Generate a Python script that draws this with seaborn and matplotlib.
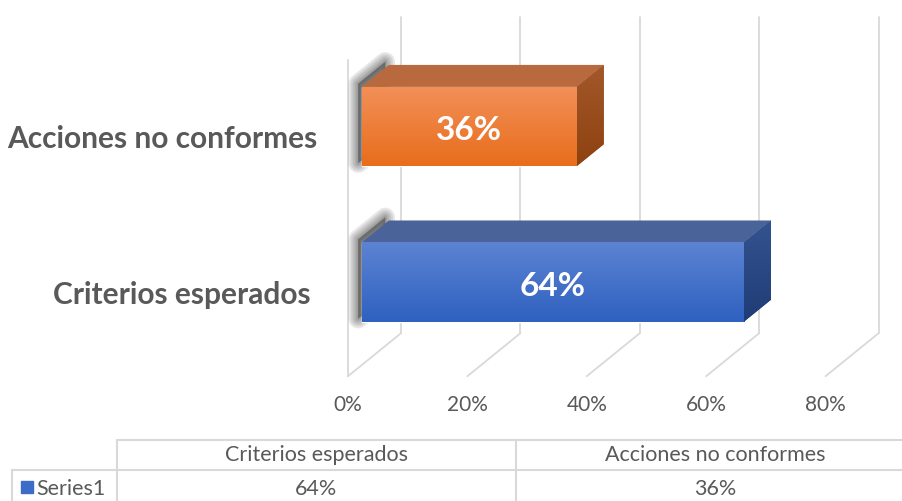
import numpy as np
import pandas as pd
import seaborn as sns
import matplotlib.pyplot as plt
from matplotlib.patches import Polygon, Rectangle
from matplotlib.colors import LinearSegmentedColormap

# chart data
categories = ["Criterios esperados", "Acciones no conformes"]
values = [64, 36]
series_name = "Series1"
ticks = [0, 20, 40, 60, 80]

# excel draws the first category at the bottom
plot_order = categories[::-1]
df = pd.DataFrame({"categoria": categories, "valor": values})

front_top = {"Criterios esperados": "#5c83d3", "Acciones no conformes": "#f29058"}
front_bot = {"Criterios esperados": "#2f61c0", "Acciones no conformes": "#e86d1c"}
roof = {"Criterios esperados": "#4a6398", "Acciones no conformes": "#b8693e"}
side_top = {"Criterios esperados": "#34548f", "Acciones no conformes": "#a3582b"}
side_bot = {"Criterios esperados": "#1f3c76", "Acciones no conformes": "#8e4210"}
key_color = "#3d6bc8"
txt = "#595959"
grid = "#d9d9d9"

# fake 3d box, offsets in data units (x in %, y in category steps)
box_dx, box_dy = 8.9, -0.277
front_d, back_d, bar_d = -0.26, 0.74, 0.51
floor_y, top_y = 1.533, -0.50


def shift(x, y, d):
    return x + d * box_dx, y + d * box_dy


def gradient(ax, clip, x0, x1, y0, y1, c0, c1, z):
    cm = LinearSegmentedColormap.from_list("g", [c0, c1])
    im = ax.imshow(np.linspace(0, 1, 64).reshape(-1, 1), cmap=cm, extent=(x0, x1, y1, y0),
                   aspect="auto", interpolation="bilinear", zorder=z)
    im.set_clip_path(clip)


sns.set_style("white")
plt.rcParams["font.family"] = ["Lato", "DejaVu Sans"]

fig = plt.figure(figsize=(9.02, 5.02), dpi=100)

# data table underneath
tax = fig.add_axes([0, 0, 1, 1])
tax.set_xlim(0, 902)
tax.set_ylim(502, 0)
tax.axis("off")
tl = dict(color=grid, lw=1.5)
tax.plot([117, 902], [441, 441], **tl)
tax.plot([12, 902], [470.5, 470.5], **tl)
tax.plot([117, 117], [441, 502], **tl)
tax.plot([516, 516], [441, 502], **tl)
tax.plot([12, 12], [470.5, 502], **tl)
col_x = [316.5, 715]
for cx, cat, v in zip(col_x, categories, values):
    tax.text(cx, 455, cat, ha="center", va="center", fontsize=15.5, color=txt)
    tax.text(cx, 489, f"{v}%", ha="center", va="center", fontsize=15.5, color=txt)
tax.add_patch(Rectangle((21, 482), 12, 12, color=key_color))
tax.text(36, 489, series_name, ha="left", va="center", fontsize=15.5, color=txt)

ax = fig.add_axes([0, 0.1633, 1, 0.8367])
ax.patch.set_alpha(0)

sns.barplot(data=df, x="valor", y="categoria", order=plot_order, hue="categoria",
            palette=front_bot, width=0.51, saturation=1, legend=False, ax=ax, zorder=3)

# walls and floor
for t in ticks:
    xb, yb = shift(t, floor_y, back_d)
    _, yt = shift(t, top_y, back_d)
    xf, yf = shift(t, floor_y, front_d)
    ax.plot([xb, xb], [yt, yb], color=grid, lw=1.3, zorder=1)
    ax.plot([xf, xb], [yf, yb], color=grid, lw=1.3, zorder=1)
    ax.text(xf, 1.785, f"{t}%", ha="center", va="center", fontsize=15, color=txt)
xf, yf = shift(0, floor_y, front_d)
_, yt = shift(0, top_y, front_d)
ax.plot([xf, xf], [yt, yf], color=grid, lw=1.3, zorder=1)

bdx, bdy = bar_d * box_dx, bar_d * box_dy
for p in list(ax.patches):
    x0, y0, w, h = p.get_x(), p.get_y(), p.get_width(), p.get_height()
    i = int(round(y0 + h / 2))
    cat = plot_order[i]
    v = values[categories.index(cat)]

    # soft shadow on the left wall
    end = [(0, y0), (bdx, y0 + bdy), (bdx, y0 + h + bdy), (0, y0 + h)]
    end = [(x - 0.6, y - 0.02) for x, y in end]
    for lw in [14, 11, 8, 5, 2.5]:
        ax.add_patch(Polygon(end, closed=True, fc="#2a2a2a", ec="#2a2a2a", lw=lw,
                             alpha=0.11, joinstyle="round", zorder=2))

    gradient(ax, p, x0, x0 + w, y0, y0 + h, front_top[cat], front_bot[cat], 3.1)

    top = Polygon([(x0, y0), (x0 + w, y0), (x0 + w + bdx, y0 + bdy), (x0 + bdx, y0 + bdy)],
                  closed=True, fc=roof[cat], ec="none", zorder=3)
    ax.add_patch(top)
    side = Polygon([(x0 + w, y0), (x0 + w + bdx, y0 + bdy), (x0 + w + bdx, y0 + h + bdy),
                    (x0 + w, y0 + h)], closed=True, fc=side_bot[cat], ec="none", zorder=3)
    ax.add_patch(side)
    gradient(ax, side, x0 + w, x0 + w + bdx, y0 + bdy, y0 + h, side_top[cat], side_bot[cat], 3.1)

    ax.text(x0 + w / 2, y0 + h / 2 + 0.02, f"{v}%", ha="center", va="center",
            fontsize=24, fontweight="bold", color="white", zorder=5)
    # labels drift left a little with perspective
    ax.text(-7.37 - 1.17 * i, i + 0.075, cat, ha="right", va="center", fontsize=21.5,
            fontweight="bold", color=txt)

ax.set_xlim(-60.6, 90.5)
ax.set_ylim(1.88, -0.82)
ax.axis("off")

fig.savefig("out.png", dpi=100)
